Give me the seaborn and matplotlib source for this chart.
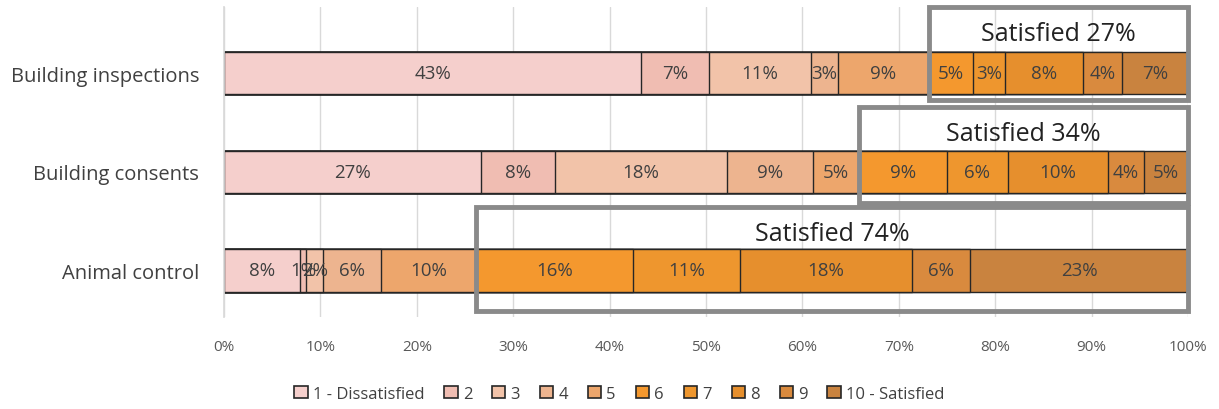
import pandas as pd
import matplotlib.pyplot as plt
import seaborn as sns
from matplotlib.patches import Patch, Rectangle

services = ["Building inspections", "Building consents", "Animal control"]
ratings = ["1 - Dissatisfied", "2", "3", "4", "5", "6", "7", "8", "9", "10 - Satisfied"]

# share of respondents per rating (%)
inspections = [43.3, 7.0, 10.6, 2.8, 9.4, 4.6, 3.3, 8.1, 4.0, 6.9]
consents = [26.7, 7.6, 17.9, 8.9, 4.8, 9.1, 6.3, 10.4, 3.7, 4.6]
animal = [7.9, 0.6, 1.8, 6.0, 9.8, 16.3, 11.1, 17.9, 6.0, 22.6]

colors = ["#F5CFCC", "#F0BDB2", "#F2C3A9", "#EDB48F", "#EDA66C",
          "#F4982E", "#EE962E", "#E68F2D", "#D98A3E", "#C9833F"]

df = pd.DataFrame([inspections, consents, animal], index=services, columns=ratings)
cum = df.cumsum(axis=1)

sns.set_theme(style="white")
plt.rcParams['font.family'] = ['Open Sans', 'DejaVu Sans']

fig = plt.figure(figsize=(12.19, 4.10), dpi=100)
ax = fig.add_axes([0.1838, 0.224, 0.7908, 0.756])

# stacked bars: draw cumulative totals from the largest down
for i in range(len(ratings) - 1, -1, -1):
    sns.barplot(x=cum.iloc[:, i].values, y=services, color=colors[i], orient="h",
                width=0.43, edgecolor="#262626", linewidth=1.0, saturation=1, ax=ax)

# segment labels
for r, svc in enumerate(services):
    for i in range(len(ratings)):
        v = df.iloc[r, i]
        left = cum.iloc[r, i] - v
        ax.text(left + v / 2, r, f"{v:.0f}%", ha="center", va="center",
                fontsize=13.5, color="#404040")

# "Satisfied" boxes around ratings 6-10
box_top = [-0.67, -0.66, -0.64]
box_bot = [0.27, 0.32, 0.41]
for r, svc in enumerate(services):
    start = cum.iloc[r, 4]
    sat = df.iloc[r, 5:].sum()
    ax.add_patch(Rectangle((start, r + box_top[r]), 100 - start, box_bot[r] - box_top[r],
                           fill=False, edgecolor="#8A8A8A", linewidth=3.5,
                           clip_on=False, zorder=5))
    ax.text((start + 100) / 2, r + box_top[r] + 0.27, f"Satisfied {sat:.0f}%",
            ha="center", va="center", fontsize=18, color="#222222", zorder=6)

ax.set_xlim(0, 100)
ax.set_ylim(2.475, -0.67)
ax.set_xticks(range(0, 101, 10))
ax.set_xticklabels([f"{t}%" for t in range(0, 101, 10)], fontsize=11, color="#595959")
ax.tick_params(axis="x", length=0, pad=16)
ax.tick_params(axis="y", length=0, labelsize=14.5, labelcolor="#404040", pad=18)
ax.set_xlabel("")
ax.set_ylabel("")
ax.grid(axis="x", color="#D9D9D9", linewidth=1)
ax.set_axisbelow(True)
for s in ["top", "right", "bottom"]:
    ax.spines[s].set_visible(False)
ax.spines["left"].set_color("#D9D9D9")

handles = [Patch(facecolor=c, edgecolor="#262626", linewidth=1.2) for c in colors]
fig.legend(handles, ratings, loc="center", bbox_to_anchor=(0.508, 0.037), ncol=10,
           frameon=False, fontsize=12, handlelength=0.8, handleheight=0.8,
           handletextpad=0.3, columnspacing=1.2, labelcolor="#404040")

fig.savefig("out.png", dpi=100)
